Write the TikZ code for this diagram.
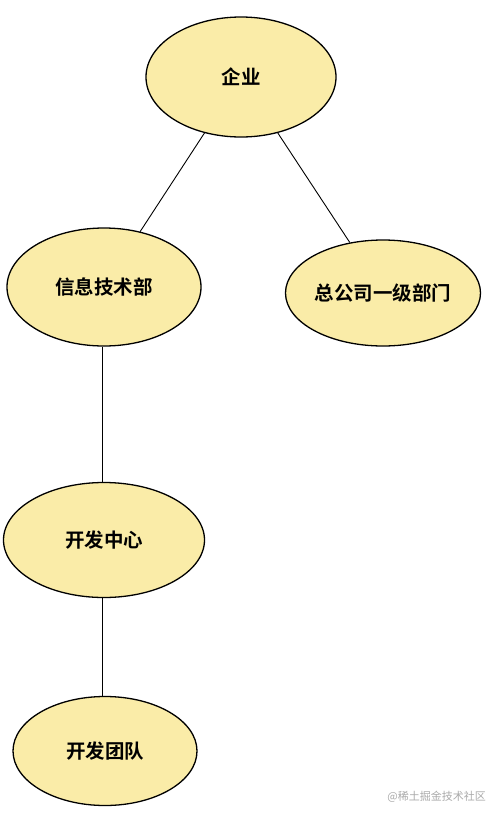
\documentclass[tikz,border=0pt]{standalone}
\usepackage{fontspec}
\newfontfamily\cjk{Noto Sans CJK SC}[BoldFont={* Bold}]
\usetikzlibrary{shapes.geometric}
\definecolor{nodefill}{RGB}{250,236,168}
\definecolor{wmgray}{RGB}{170,170,170}
\tikzset{
  ell/.style={ellipse, draw=black, line width=1.3pt, fill=nodefill, inner sep=0pt,
    font=\cjk\bfseries\fontsize{19.5}{22}\selectfont, text=black},
  link/.style={draw=black, line width=0.9pt}
}
\begin{document}
\begin{tikzpicture}[x=1pt,y=-1pt]
\useasboundingbox (0,0) rectangle (502,820);
\fill[white] (0,0) rectangle (502,820);
\node[ell, minimum width=190pt, minimum height=120pt] (qy) at (241,77) {企业};
\node[ell, minimum width=194pt, minimum height=118pt] (xx) at (104,287) {信息技术部};
\node[ell, minimum width=195pt, minimum height=106pt] (zg) at (383,293) {总公司一级部门};
\node[ell, minimum width=201pt, minimum height=115pt] (kf) at (104,540) {开发中心};
\node[ell, minimum width=184pt, minimum height=109pt] (td) at (105,751) {开发团队};
\draw[link] (qy) -- (xx);
\draw[link] (qy) -- (zg);
\draw[link] (xx.south -| 102,0) -- (kf.north -| 102,0);
\draw[link] (kf.south -| 102,0) -- (td.north -| 102,0);
\node[font=\cjk\fontsize{11}{13}\selectfont, text=wmgray, anchor=east, inner sep=0pt] (wm) at (486,797) {@稀土掘金技术社区};
\end{tikzpicture}
\end{document}
